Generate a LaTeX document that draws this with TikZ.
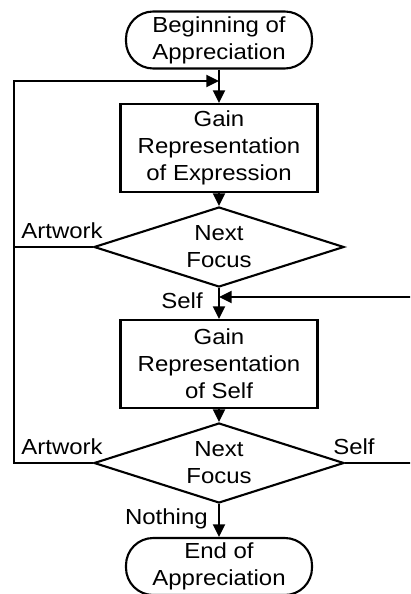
\documentclass[tikz,border=0pt]{standalone}
\usepackage{fontspec}
\setmainfont{Liberation Sans}[FakeStretch=1.1]
\usetikzlibrary{shapes.geometric,arrows.meta}
\tikzstyle{startstop} = [rectangle, rounded corners = 0.68cm, minimum width = 4.65cm, minimum height = 1.425cm, text centered, align = center, draw = black, line width = 1.5pt, inner sep = 0pt]
\tikzstyle{process} = [rectangle, minimum width = 4.925cm, minimum height = 2.2cm, text centered, align = center, draw = black, line width = 1.5pt, inner sep = 0pt]
\tikzstyle{decision} = [diamond, aspect = 3.125, minimum width = 6.25cm, minimum height = 2cm, text centered, align = center, draw = black, line width = 1.5pt, inner sep = 0pt]
\tikzstyle{arrow} = [line width = 1.5pt, -{Triangle[length = 9pt, width = 8.5pt]}]
\tikzstyle{line} = [line width = 1.5pt]
\tikzstyle{lbl} = [inner sep = 0pt]

\begin{document}
\begin{tikzpicture}[font = \fontsize{15.5}{19.2}\selectfont]
	\useasboundingbox (0,0) rectangle (10.25,-14.85);
	\clip (0,0) rectangle (10.25,-14.85);

	\node[startstop](begin) at (5.475,-1.0){Beginning of\\Appreciation};
	\node[process,below of = begin,node distance = 2.7cm](gainexpr){Gain\\Representation\\of Expression};
	\node[decision,below of = gainexpr,node distance = 2.475cm](focus1){Next\\Focus};
	\node[process,below of = focus1,node distance = 2.925cm](gainself){Gain\\Representation\\of Self};
	\node[decision,below of = gainself,node distance = 2.475cm](focus2){Next\\Focus};
	\node[startstop,below of = focus2,node distance = 2.5875cm](end){End of\\Appreciation};

	\coordinate[below of = begin,node distance = 1.025cm](join1);
	\coordinate[below of = focus1,node distance = 1.25cm](join2);
	\coordinate[left of = join1,node distance = 5.125cm](loopL);
	\coordinate[right of = join2,node distance = 5.3cm](loopR);

	\node[lbl,anchor = base east] at ([xshift = 0.25cm,yshift = 0.2cm]focus1.west)(art1){Artwork};
	\node[lbl,anchor = base east] at ([xshift = -0.4cm,yshift = -0.5cm]focus1.south)(self1){Self};
	\node[lbl,anchor = base east] at ([xshift = 0.25cm,yshift = 0.22cm]focus2.west)(art2){Artwork};
	\node[lbl,anchor = base west] at ([xshift = -0.3cm,yshift = 0.22cm]focus2.east)(self2){Self};
	\node[lbl,anchor = base east] at ([xshift = -0.275cm,yshift = -0.5cm]focus2.south)(nothing){Nothing};

	\draw [arrow](begin)--(gainexpr);
	\draw [arrow](gainexpr)--(focus1);
	\draw [arrow](focus1)--(gainself);
	\draw [arrow](gainself)--(focus2);
	\draw [arrow](focus2)--(end);

	\draw [arrow](focus1.west)-|(loopL)--(join1);
	\draw [line](focus2.west)-|(loopL);
	\draw [arrow](focus2.east)-|(loopR)--(join2);

\end{tikzpicture}
\end{document}
